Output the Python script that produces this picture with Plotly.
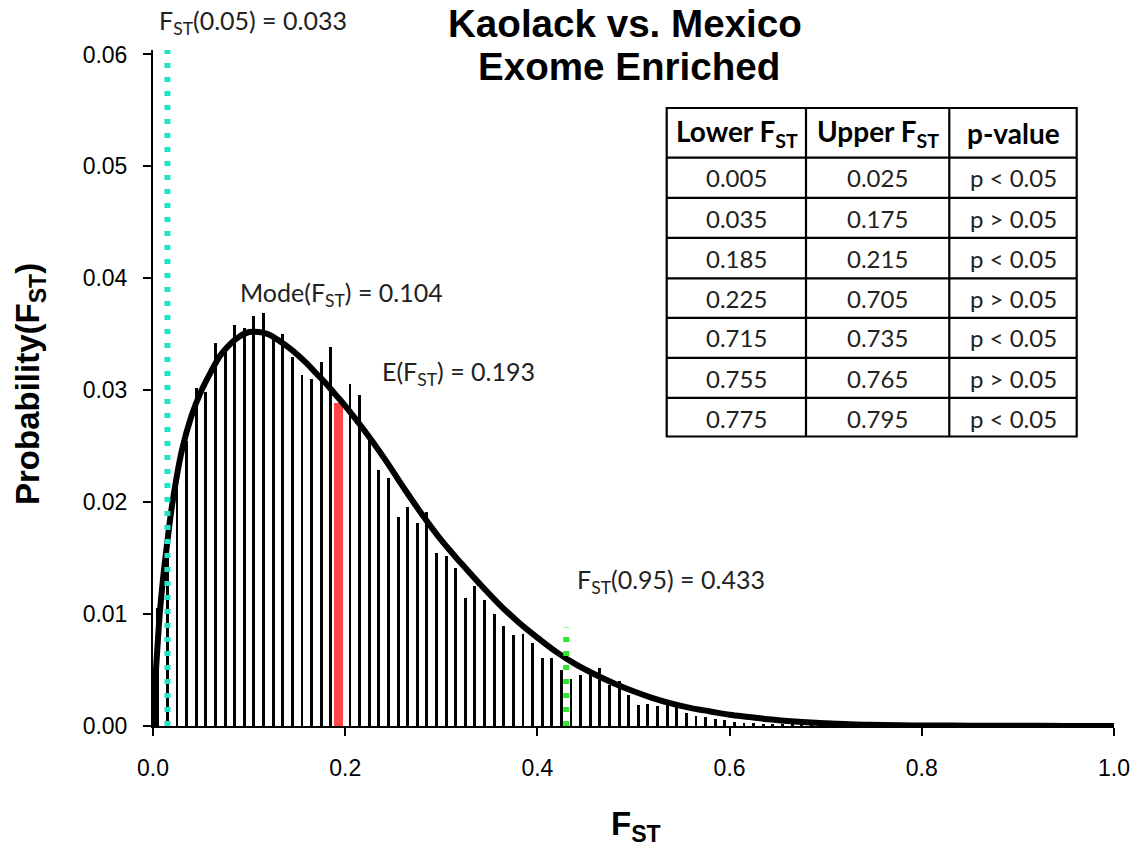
import plotly.graph_objects as go

# ---------------- data ----------------
bin_centers = [0.005, 0.015, 0.025, 0.035, 0.045, 0.055, 0.065, 0.075, 0.085, 0.095,
               0.105, 0.115, 0.125, 0.135, 0.145, 0.155, 0.165, 0.175, 0.185, 0.195,
               0.205, 0.215, 0.225, 0.235, 0.245, 0.255, 0.265, 0.275, 0.285, 0.295,
               0.305, 0.315, 0.325, 0.335, 0.345, 0.355, 0.365, 0.375, 0.385, 0.395,
               0.405, 0.415, 0.425, 0.435, 0.445, 0.455, 0.465, 0.475, 0.485, 0.495,
               0.505, 0.515, 0.525, 0.535, 0.545, 0.555, 0.565, 0.575, 0.585, 0.595,
               0.605, 0.615, 0.625, 0.635, 0.645, 0.655, 0.665, 0.675, 0.685, 0.695,
               0.705, 0.715, 0.725, 0.735, 0.745, 0.755, 0.765, 0.775, 0.785, 0.795,
               0.805, 0.815, 0.825, 0.835, 0.845, 0.855, 0.865, 0.875, 0.885, 0.895,
               0.905, 0.915, 0.925, 0.935, 0.945, 0.955, 0.965, 0.975, 0.985, 0.995]

bin_probs = [0.0105, 0.0175, 0.0215, 0.0255, 0.0302, 0.0298, 0.0342, 0.0335, 0.0358, 0.0356,
             0.0366, 0.0369, 0.0347, 0.0350, 0.0330, 0.0314, 0.0310, 0.0325, 0.0339, 0.0294,
             0.0306, 0.0296, 0.0260, 0.0229, 0.0222, 0.0187, 0.0196, 0.0181, 0.0191, 0.0155,
             0.0152, 0.0141, 0.0114, 0.0125, 0.0113, 0.0100, 0.0089, 0.0081, 0.0082, 0.0074,
             0.0061, 0.0061, 0.0050, 0.0042, 0.0046, 0.0049, 0.0052, 0.0037, 0.0040, 0.0028,
             0.0019, 0.0020, 0.0018, 0.0022, 0.0019, 0.0012, 0.0009, 0.0008, 0.0006, 0.0005,
             0.0004, 0.0003, 0.0003, 0.0002, 0.0002, 0.0002, 0.0001, 0.0001, 0.0001, 0.0001,
             0.0001, 0.0001, 0.0001, 0.0001, 0.00005, 0.00005, 0.00005, 0.00005, 0.00005, 0.00005,
             0.00003, 0.00003, 0.00003, 0.00003, 0.00003, 0.00002, 0.00002, 0.00002, 0.00002, 0.00002,
             0.00001, 0.00001, 0.00001, 0.00001, 0.00001, 0.00001, 0.0, 0.0, 0.0, 0.0]

curve_x = [0.0, 0.002, 0.004, 0.007, 0.010, 0.014, 0.02, 0.03, 0.04, 0.05, 0.06, 0.07,
           0.08, 0.09, 0.10, 0.11, 0.12, 0.13, 0.14, 0.15, 0.16, 0.17, 0.18, 0.19, 0.20,
           0.22, 0.24, 0.26, 0.28, 0.30, 0.32, 0.34, 0.36, 0.38, 0.40, 0.42, 0.44, 0.46,
           0.48, 0.50, 0.52, 0.54, 0.56, 0.58, 0.60, 0.62, 0.64, 0.66, 0.68, 0.70, 0.72,
           0.74, 0.76, 0.80, 0.85, 0.90, 0.95, 1.0]
curve_y = [0.0, 0.0035, 0.0062, 0.0100, 0.0128, 0.0158, 0.0198, 0.0246, 0.0277, 0.0299,
           0.0316, 0.0331, 0.0341, 0.0348, 0.0352, 0.0352, 0.0350, 0.0345, 0.0339, 0.0332,
           0.0324, 0.0315, 0.0306, 0.0296, 0.0286, 0.0264, 0.0240, 0.0214, 0.0189, 0.0166,
           0.0146, 0.0127, 0.0109, 0.0093, 0.0079, 0.0066, 0.0055, 0.0046, 0.0038, 0.0031,
           0.0025, 0.0020, 0.0016, 0.0013, 0.0010, 0.0008, 0.0006, 0.00045, 0.00033, 0.00024,
           0.00017, 0.00012, 0.00008, 0.00005, 0.00003, 0.00002, 0.00001, 0.0]

e_fst_x = 0.193
e_fst_prob = 0.0289
q05_line_x = 0.015
q05_line_top = 0.0604
q95_line_x = 0.43
q95_line_top = 0.0088

q05_label = "F<sub>ST</sub>(0.05) = 0.033"
q95_label = "F<sub>ST</sub>(0.95) = 0.433"
mode_label = "Mode(F<sub>ST</sub>) = 0.104"
mean_label = "E(F<sub>ST</sub>) = 0.193"

table_header = ["Lower F<sub>ST</sub>", "Upper F<sub>ST</sub>", "p-value"]
table_lower = ["0.005", "0.035", "0.185", "0.225", "0.715", "0.755", "0.775"]
table_upper = ["0.025", "0.175", "0.215", "0.705", "0.735", "0.765", "0.795"]
table_p = ["p < 0.05", "p > 0.05", "p < 0.05", "p > 0.05", "p < 0.05", "p > 0.05", "p < 0.05"]

x_ticks = [0.0, 0.2, 0.4, 0.6, 0.8, 1.0]
y_ticks = [0.00, 0.01, 0.02, 0.03, 0.04, 0.05, 0.06]

# ---------------- geometry helpers (pixel -> paper) ----------------
W, H = 1137, 849
ML, MR, MT, MB = 153, 23, 50, 123
PW, PH = W - ML - MR, H - MT - MB


def px(x):
    return (x - ML) / PW


def py(y):
    return (H - MB - y) / PH


fig = go.Figure()

fig.add_trace(go.Bar(x=bin_centers, y=bin_probs, width=0.003,
                     marker=dict(color="black", line=dict(width=0)),
                     showlegend=False, hoverinfo="x+y"))
fig.add_trace(go.Bar(x=[e_fst_x], y=[e_fst_prob], width=0.0087,
                     marker=dict(color="#FF4545", line=dict(width=0)),
                     showlegend=False))
fig.add_trace(go.Scatter(x=curve_x, y=curve_y, mode="lines",
                         line=dict(color="black", width=6, shape="spline", smoothing=1.0),
                         showlegend=False))
fig.add_trace(go.Scatter(x=[q05_line_x, q05_line_x], y=[0, q05_line_top], mode="lines",
                         line=dict(color="#1EE6C3", width=6, dash="5px,9px"),
                         showlegend=False))
fig.add_trace(go.Scatter(x=[q95_line_x, q95_line_x], y=[0, q95_line_top], mode="lines",
                         line=dict(color="#2EE62E", width=6, dash="5px,9px"),
                         showlegend=False))

ann = []
txt_font = dict(family="Lato", size=25, color="#222222")
ann.append(dict(text=q05_label, x=px(157), y=py(22), xref="paper", yref="paper",
                xanchor="left", yanchor="middle", showarrow=False, font=txt_font))
ann.append(dict(text=mode_label, x=px(238), y=py(294), xref="paper", yref="paper",
                xanchor="left", yanchor="middle", showarrow=False, font=txt_font))
ann.append(dict(text=mean_label, x=px(380), y=py(373), xref="paper", yref="paper",
                xanchor="left", yanchor="middle", showarrow=False, font=txt_font))
ann.append(dict(text=q95_label, x=px(575), y=py(581), xref="paper", yref="paper",
                xanchor="left", yanchor="middle", showarrow=False, font=txt_font))

# title
title_font = dict(family="Liberation Sans", size=38.6, color="black")
ann.append(dict(text="<b>Kaolack vs. Mexico</b>", x=px(625), y=py(23), xref="paper", yref="paper",
                xanchor="center", yanchor="middle", showarrow=False, font=title_font))
ann.append(dict(text="<b>Exome Enriched</b>", x=px(629), y=py(66), xref="paper", yref="paper",
                xanchor="center", yanchor="middle", showarrow=False, font=title_font))

# axis titles
axis_title_font = dict(family="Liberation Sans", size=33, color="black")
ann.append(dict(text="<b>F<sub>ST</sub></b>", x=px(636), y=py(826), xref="paper", yref="paper",
                xanchor="center", yanchor="middle", showarrow=False, font=axis_title_font))
ann.append(dict(text="<b>Probability(F<sub>ST</sub>)</b>", x=px(30), y=py(384), xref="paper",
                yref="paper", xanchor="center", yanchor="middle", textangle=-90,
                showarrow=False, font=axis_title_font))

# table
tab_left, tab_right, tab_top = 666.7, 1076.7, 108
col_seps = [806, 949.3]
row_lines = [157.7, 197.8, 237.8, 278.3, 317.8, 357.8, 397.8]
tab_bottom = 436.5
col_centers = [736.5, 877.7, 1013]
header_center_y = 133
row_centers = [178, 218, 258, 298, 338, 378, 418]

shapes = []
line_style = dict(color="black", width=2.2)
shapes.append(dict(type="rect", xref="paper", yref="paper", x0=px(tab_left), x1=px(tab_right),
                   y0=py(tab_bottom), y1=py(tab_top), line=line_style, fillcolor="white",
                   layer="below"))
for cx in col_seps:
    shapes.append(dict(type="line", xref="paper", yref="paper", x0=px(cx), x1=px(cx),
                       y0=py(tab_bottom), y1=py(tab_top), line=line_style))
for ry in row_lines:
    shapes.append(dict(type="line", xref="paper", yref="paper", x0=px(tab_left), x1=px(tab_right),
                       y0=py(ry), y1=py(ry), line=line_style))

head_font = dict(family="Lato", size=28, color="black")
body_font = dict(family="Lato", size=24, color="#222222")
for c, htxt in enumerate(table_header):
    ann.append(dict(text="<b>" + htxt + "</b>", x=px(col_centers[c]), y=py(header_center_y),
                    xref="paper", yref="paper", xanchor="center", yanchor="middle",
                    showarrow=False, font=head_font))
for r in range(len(table_lower)):
    for c, col in enumerate([table_lower, table_upper, table_p]):
        ann.append(dict(text=col[r], x=px(col_centers[c]), y=py(row_centers[r]),
                        xref="paper", yref="paper", xanchor="center", yanchor="middle",
                        showarrow=False, font=body_font))

fig.update_layout(
    width=W, height=H,
    margin=dict(l=ML, r=MR, t=MT, b=MB, pad=0),
    paper_bgcolor="white", plot_bgcolor="white",
    barmode="overlay", bargap=0,
    showlegend=False,
    annotations=ann,
    shapes=shapes,
    font=dict(family="Liberation Sans", color="black"),
)
fig.update_xaxes(range=[0, 1.0], tickvals=x_ticks, ticktext=[f"{v:.1f}" for v in x_ticks],
                 showline=True, linecolor="black", linewidth=2, ticks="outside",
                 ticklen=8, tickwidth=2, tickcolor="black", showgrid=False, zeroline=False,
                 tickfont=dict(family="Liberation Sans", size=23, color="black"),
                 ticklabelstandoff=12, automargin=False)
fig.update_yaxes(range=[0, 0.0604], tickvals=y_ticks, ticktext=[f"{v:.2f}" for v in y_ticks],
                 showline=True, linecolor="black", linewidth=2, ticks="outside",
                 ticklen=8, tickwidth=2, tickcolor="black", showgrid=False, zeroline=False,
                 tickfont=dict(family="Liberation Sans", size=23, color="black"),
                 ticklabelstandoff=11, automargin=False)

fig.write_html("out.html", config={"displayModeBar": False},
               post_script="document.body.style.margin='0';document.body.style.overflow='hidden';"
                           "document.documentElement.style.overflow='hidden';")
